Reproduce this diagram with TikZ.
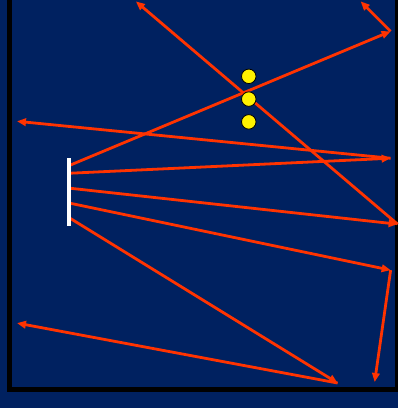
\documentclass[tikz,border=0pt]{standalone}
\usetikzlibrary{arrows.meta, positioning}
\definecolor{navy}{RGB}{0,33,96}
\definecolor{rayred}{RGB}{255,51,0}

\begin{document}
\begin{tikzpicture}[
    x=1pt, y=-1pt,
    ray/.style={draw=rayred, line width=2.8pt, -{Triangle[length=9pt,width=7.5pt]}},
    ball/.style={circle, draw=black, line width=0.8pt, fill=yellow, minimum size=14.5pt, inner sep=0pt}
]
% background and frame
\fill[navy] (0,0) rectangle (398,408);
\fill[black] (7,0) rectangle (398,392);
\fill[navy] (12,0) rectangle (395,387);

% points where the rays start, hit and end
\coordinate (s1) at (70,165);
\coordinate (s2) at (70,173);
\coordinate (s3) at (70,188);
\coordinate (s4) at (70,203);
\coordinate (s5) at (70,218);
\coordinate (h1) at (391,31);
\coordinate (h2) at (391,158);
\coordinate (h3) at (398,224);
\coordinate (h4) at (391,270);
\coordinate (h5) at (338,383);
\coordinate (e1) at (361,1);
\coordinate (e2) at (17,121);
\coordinate (e3) at (136,1);
\coordinate (e4) at (375,382);
\coordinate (e5) at (17,323);

\path [ray] (s1) -- (h1);
\path [ray] (h1) -- (e1);
\path [ray] (s2) -- (h2);
\path [ray] (h2) -- (e2);
\path [ray] (s3) -- (h3);
\path [ray] (h3) -- (e3);
\path [ray] (s4) -- (h4);
\path [ray] (h4) -- (e4);
\path [ray] (s5) -- (h5);
\path [ray] (h5) -- (e5);

% source
\draw [white, line width=4pt] (69,158) -- (69,226);

% dots
\node [ball] (b1) at (249,76) {};
\node [ball, below=7.5pt of b1] (b2) {};
\node [ball, below=7.5pt of b2] (b3) {};
\end{tikzpicture}
\end{document}
